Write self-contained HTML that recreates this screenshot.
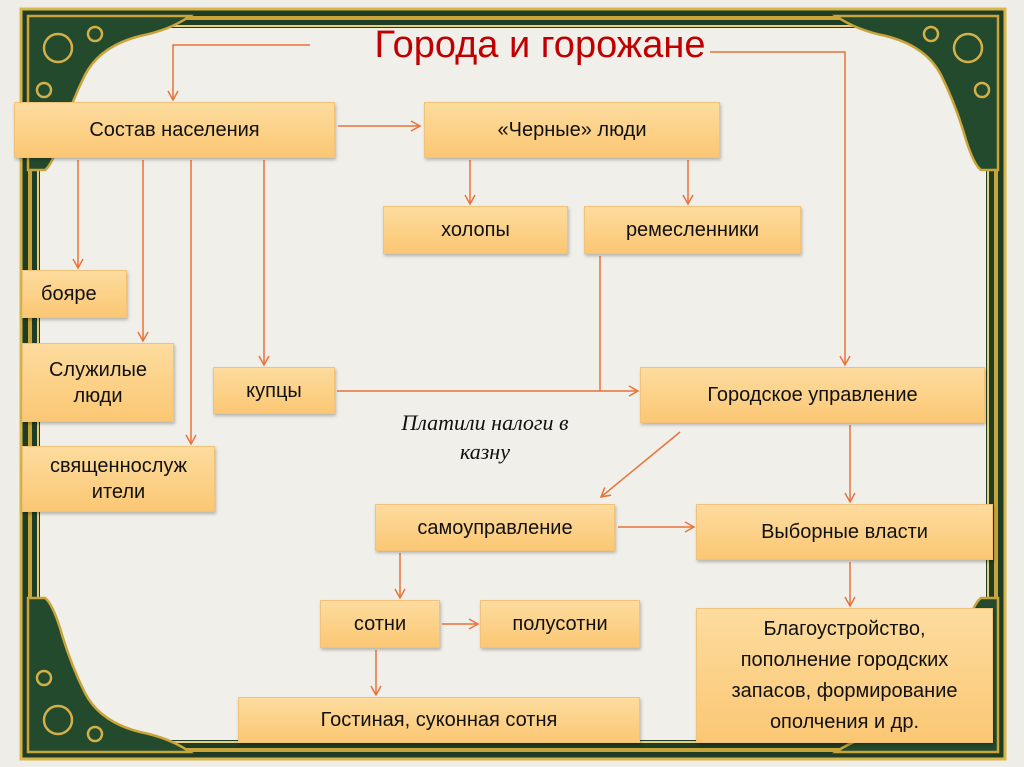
<!DOCTYPE html>
<html><head><meta charset="utf-8">
<style>
html,body{margin:0;padding:0;}
body{width:1024px;height:767px;position:relative;overflow:hidden;background:#f3f1ec;font-family:"Liberation Sans","DejaVu Sans",sans-serif;}
.b{position:absolute;box-sizing:border-box;background:linear-gradient(#fddc9e,#fbc774);border:1px solid #f0c27a;display:flex;align-items:center;justify-content:center;text-align:center;font-size:20px;color:#111;line-height:1.3;box-shadow:1px 2px 3px rgba(0,0,0,0.25);}
.t{position:absolute;left:300px;top:24px;width:480px;text-align:center;font-size:38px;color:#c00000;}
.it{position:absolute;left:360px;top:408px;width:250px;text-align:center;font-family:"Liberation Serif",serif;font-style:italic;font-size:22px;line-height:29px;color:#111;}
</style></head><body>
<svg width="1024" height="767" style="position:absolute;left:0;top:0">
<defs>
<marker id="a" markerWidth="12" markerHeight="12" refX="10" refY="6" orient="auto" markerUnits="userSpaceOnUse">
<path d="M1,1 L10,6 L1,11" fill="none" stroke="#e8743b" stroke-width="1.5"/></marker>
</defs>
<rect x="0" y="0" width="1024" height="767" fill="#efede8"/>
<rect x="20" y="8" width="986" height="752" fill="#1f3d25"/>
<rect x="21" y="9" width="984" height="750" fill="none" stroke="#d8b64a" stroke-width="3"/>
<rect x="30" y="18" width="966" height="732" fill="none" stroke="#c9a43a" stroke-width="4"/>
<rect x="38" y="26" width="950" height="716" fill="none" stroke="#e6cf7a" stroke-width="2"/>
<rect x="40" y="28" width="946" height="712" fill="#f1efe9"/>
<g fill="#234a2c" stroke="#c9a43a" stroke-width="2.5">
<path d="M28,16 L190,16 Q170,30 140,36 Q100,46 85,75 Q70,105 60,140 Q52,165 45,170 L28,170 Z"/>
<path d="M998,16 L836,16 Q856,30 886,36 Q926,46 941,75 Q956,105 966,140 Q974,165 981,170 L998,170 Z"/>
<path d="M28,752 L190,752 Q170,738 140,732 Q100,722 85,693 Q70,663 60,628 Q52,603 45,598 L28,598 Z"/>
<path d="M998,752 L836,752 Q856,738 886,732 Q926,722 941,693 Q956,663 966,628 Q974,603 981,598 L998,598 Z"/>
</g>
<g fill="none" stroke="#d4b04a" stroke-width="2.5">
<circle cx="58" cy="48" r="14"/><circle cx="95" cy="34" r="7"/><circle cx="44" cy="90" r="7"/>
<circle cx="968" cy="48" r="14"/><circle cx="931" cy="34" r="7"/><circle cx="982" cy="90" r="7"/>
<circle cx="58" cy="720" r="14"/><circle cx="95" cy="734" r="7"/><circle cx="44" cy="678" r="7"/>
<circle cx="968" cy="720" r="14"/><circle cx="931" cy="734" r="7"/><circle cx="982" cy="678" r="7"/>
</g>
<g fill="none" stroke="#e8743b" stroke-width="1.5">
<path d="M310,45 L173,45 L173,100" marker-end="url(#a)"/>
<path d="M710,52 L845,52 L845,365" marker-end="url(#a)"/>
<path d="M338,126 L420,126" marker-end="url(#a)"/>
<path d="M470,160 L470,204" marker-end="url(#a)"/>
<path d="M688,160 L688,204" marker-end="url(#a)"/>
<path d="M78,160 L78,268" marker-end="url(#a)"/>
<path d="M143,160 L143,341" marker-end="url(#a)"/>
<path d="M191,160 L191,444" marker-end="url(#a)"/>
<path d="M264,160 L264,365" marker-end="url(#a)"/>
<path d="M600,256 L600,391"/>
<path d="M337,391 L638,391" marker-end="url(#a)"/>
<path d="M680,432 L601,497" marker-end="url(#a)"/>
<path d="M850,425 L850,502" marker-end="url(#a)"/>
<path d="M618,527 L694,527" marker-end="url(#a)"/>
<path d="M850,562 L850,606" marker-end="url(#a)"/>
<path d="M400,553 L400,598" marker-end="url(#a)"/>
<path d="M442,624 L478,624" marker-end="url(#a)"/>
<path d="M376,650 L376,695" marker-end="url(#a)"/>
</g>
</svg>
<div class="t">Города и горожане</div>
<div class="b" style="left:14px;top:102px;width:321px;height:56px">Состав населения</div>
<div class="b" style="left:424px;top:102px;width:296px;height:56px">«Черные» люди</div>
<div class="b" style="left:383px;top:206px;width:185px;height:48px">холопы</div>
<div class="b" style="left:584px;top:206px;width:217px;height:48px">ремесленники</div>
<div class="b" style="left:22px;top:270px;width:105px;height:48px;justify-content:flex-start;padding-left:18px">бояре</div>
<div class="b" style="left:22px;top:343px;width:152px;height:79px">Служилые<br>люди</div>
<div class="b" style="left:213px;top:367px;width:122px;height:47px">купцы</div>
<div class="b" style="left:640px;top:367px;width:345px;height:56px">Городское управление</div>
<div class="b" style="left:22px;top:446px;width:193px;height:66px">священнослуж<br>ители</div>
<div class="b" style="left:375px;top:504px;width:240px;height:47px">самоуправление</div>
<div class="b" style="left:696px;top:504px;width:297px;height:56px">Выборные власти</div>
<div class="b" style="left:320px;top:600px;width:120px;height:48px">сотни</div>
<div class="b" style="left:480px;top:600px;width:160px;height:48px">полусотни</div>
<div class="b" style="left:696px;top:608px;width:297px;height:135px;line-height:31px;font-size:20px">Благоустройство,<br>пополнение городских<br>запасов, формирование<br>ополчения и др.</div>
<div class="b" style="left:238px;top:697px;width:402px;height:46px">Гостиная, суконная сотня</div>
<div class="it">Платили налоги в<br>казну</div>
</body></html>
